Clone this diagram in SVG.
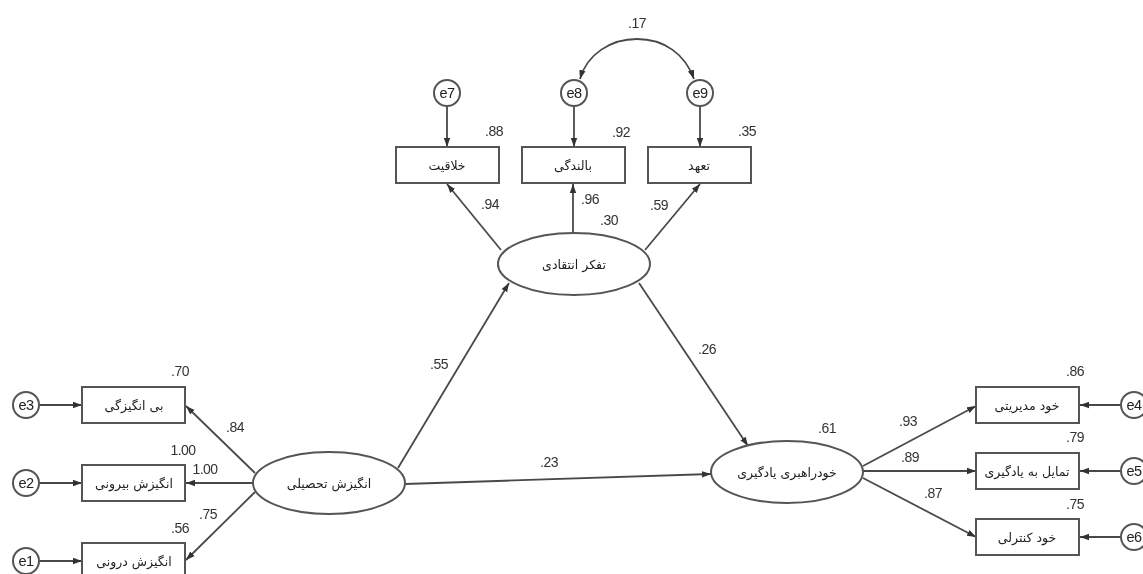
<svg xmlns="http://www.w3.org/2000/svg" width="1143" height="574" viewBox="0 0 1143 574">
<defs>
<marker id="arrow" markerUnits="userSpaceOnUse" markerWidth="10" markerHeight="8" refX="9" refY="4" orient="auto"><path d="M0 0.8L9 4L0 7.2z" fill="#333"/></marker>
<filter id="soft" x="-5%" y="-5%" width="110%" height="110%"><feGaussianBlur stdDeviation="0.6"/></filter>
</defs>
<style>
.n{fill:#fff;stroke:#555;stroke-width:2}
.c{fill:none;stroke:#4a4a4a;stroke-width:1.8;marker-end:url(#arrow)}
.v{font-family:"Liberation Sans",Arial,sans-serif;font-size:14px;fill:#333;text-anchor:middle;letter-spacing:-.5px}
.e{font-family:"Liberation Sans",Arial,sans-serif;font-size:14.5px;fill:#222;text-anchor:middle;letter-spacing:-.6px}
.f{font-family:"DejaVu Sans",sans-serif;font-size:12.5px;fill:#222;text-anchor:middle;direction:rtl}
</style>
<rect width="1143" height="574" fill="#fff"/>
<g filter="url(#soft)">
<g id="connectors">
<path class="c" d="M39 405H82"/>
<path class="c" d="M39 483H82"/>
<path class="c" d="M39 561H82"/>
<path class="c" d="M255 473L186 406"/>
<path class="c" d="M253 483H186"/>
<path class="c" d="M255 492L186 560"/>
<path class="c" d="M398 468L509 283"/>
<path class="c" d="M405 484L711 474"/>
<path class="c" d="M639 283L748 446"/>
<path class="c" d="M501 250L447 184"/>
<path class="c" d="M573 233V184"/>
<path class="c" d="M645 250L700 184"/>
<path class="c" d="M447 106V147"/>
<path class="c" d="M574 106V147"/>
<path class="c" d="M700 106V147"/>
<path class="c" d="M637 39C611 39 587 54 580 79"/>
<path class="c" d="M637 39C664 39 685 54 694 79"/>
<path class="c" d="M863 466L976 406"/>
<path class="c" d="M863 471H976"/>
<path class="c" d="M863 478L976 537"/>
<path class="c" d="M1121 405H1080"/>
<path class="c" d="M1121 471H1080"/>
<path class="c" d="M1121 537H1080"/>
</g>
<g id="e3"><circle class="n" cx="26" cy="405" r="13"/><text class="e" x="26" y="410">e3</text></g>
<g id="e2"><circle class="n" cx="26" cy="483" r="13"/><text class="e" x="26" y="488">e2</text></g>
<g id="e1"><circle class="n" cx="26" cy="561" r="13"/><text class="e" x="26" y="566">e1</text></g>
<g id="e7"><circle class="n" cx="447" cy="93" r="13"/><text class="e" x="447" y="98">e7</text></g>
<g id="e8"><circle class="n" cx="574" cy="93" r="13"/><text class="e" x="574" y="98">e8</text></g>
<g id="e9"><circle class="n" cx="700" cy="93" r="13"/><text class="e" x="700" y="98">e9</text></g>
<g id="e4"><circle class="n" cx="1134" cy="405" r="13"/><text class="e" x="1134" y="410">e4</text></g>
<g id="e5"><circle class="n" cx="1134" cy="471" r="13"/><text class="e" x="1134" y="476">e5</text></g>
<g id="e6"><circle class="n" cx="1134" cy="537" r="13"/><text class="e" x="1134" y="542">e6</text></g>
<g id="box-amotivation"><rect class="n" x="82" y="387" width="103" height="36"/><text class="f" x="134" y="410">بی انگیزگی</text></g>
<g id="box-external"><rect class="n" x="82" y="465" width="103" height="36"/><text class="f" x="134" y="488">انگیزش بیرونی</text></g>
<g id="box-internal"><rect class="n" x="82" y="543" width="103" height="36"/><text class="f" x="134" y="566">انگیزش درونی</text></g>
<g id="box-creativity"><rect class="n" x="396" y="147" width="103" height="36"/><text class="f" x="447" y="170">خلاقیت</text></g>
<g id="box-maturity"><rect class="n" x="522" y="147" width="103" height="36"/><text class="f" x="573" y="170">بالندگی</text></g>
<g id="box-commitment"><rect class="n" x="648" y="147" width="103" height="36"/><text class="f" x="699" y="170">تعهد</text></g>
<g id="box-selfmanagement"><rect class="n" x="976" y="387" width="103" height="36"/><text class="f" x="1027" y="410">خود مدیریتی</text></g>
<g id="box-desire"><rect class="n" x="976" y="453" width="103" height="36"/><text class="f" x="1027" y="476">تمایل به یادگیری</text></g>
<g id="box-selfcontrol"><rect class="n" x="976" y="519" width="103" height="36"/><text class="f" x="1027" y="542">خود کنترلی</text></g>
<g id="motivation"><ellipse class="n" cx="329" cy="483" rx="76" ry="31"/><text class="f" x="329" y="488">انگیزش تحصیلی</text></g>
<g id="critical"><ellipse class="n" cx="574" cy="264" rx="76" ry="31"/><text class="f" x="574" y="269">تفکر انتقادی</text></g>
<g id="selfdirected"><ellipse class="n" cx="787" cy="472" rx="76" ry="31"/><text class="f" x="787" y="477">خودراهبری یادگیری</text></g>
<g id="values">
<text class="v" x="180" y="376">.70</text>
<text class="v" x="235" y="432">.84</text>
<text class="v" x="183" y="455">1.00</text>
<text class="v" x="205" y="474">1.00</text>
<text class="v" x="208" y="519">.75</text>
<text class="v" x="180" y="533">.56</text>
<text class="v" x="439" y="369">.55</text>
<text class="v" x="549" y="467">.23</text>
<text class="v" x="707" y="354">.26</text>
<text class="v" x="494" y="136">.88</text>
<text class="v" x="621" y="137">.92</text>
<text class="v" x="747" y="136">.35</text>
<text class="v" x="637" y="28">.17</text>
<text class="v" x="490" y="209">.94</text>
<text class="v" x="590" y="204">.96</text>
<text class="v" x="609" y="225">.30</text>
<text class="v" x="659" y="210">.59</text>
<text class="v" x="827" y="433">.61</text>
<text class="v" x="908" y="426">.93</text>
<text class="v" x="910" y="462">.89</text>
<text class="v" x="933" y="498">.87</text>
<text class="v" x="1075" y="376">.86</text>
<text class="v" x="1075" y="442">.79</text>
<text class="v" x="1075" y="509">.75</text>
</g>
</g>
</svg>
